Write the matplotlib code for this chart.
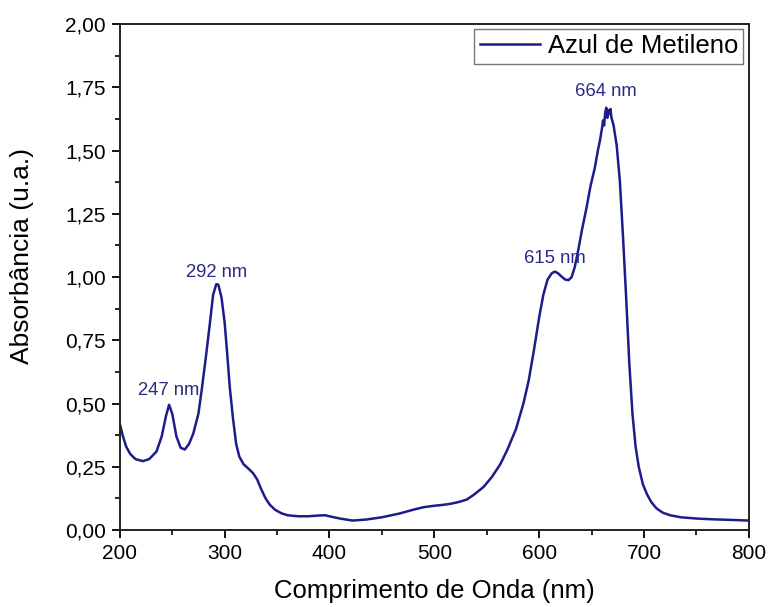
import numpy as np
import matplotlib
matplotlib.use("Agg")
import matplotlib.pyplot as plt
from matplotlib.ticker import MultipleLocator, FuncFormatter

plt.rcParams['font.family'] = ['Liberation Sans', 'DejaVu Sans']

wavelength = [200, 203, 206, 210, 215, 222, 228, 235, 240, 244, 247, 250, 254, 258, 262,
              266, 270, 275, 278, 282, 286, 289, 292, 294, 297, 300, 302, 305, 308, 311,
              314, 318, 322, 327, 331, 335, 339, 343, 348, 354, 360, 370, 380, 390, 396,
              402, 410, 422, 435, 450, 467, 480, 490, 499, 508, 515, 523, 531, 538, 547,
              555, 563, 570, 578, 585, 590, 595, 600, 604, 608, 612, 615, 618, 622, 625,
              628, 631, 634, 637, 641, 645, 649, 653, 656, 658, 660, 661, 662, 663, 664,
              665, 666, 667, 668, 669, 671, 674, 677, 680, 683, 686, 689, 692, 695, 699,
              703, 707, 712, 718, 725, 735, 750, 765, 780, 800]
absorbance = [0.42, 0.37, 0.33, 0.30, 0.28, 0.272, 0.28, 0.31, 0.37, 0.45, 0.495, 0.46, 0.37,
              0.325, 0.318, 0.34, 0.38, 0.46, 0.55, 0.68, 0.82, 0.93, 0.972, 0.97, 0.92, 0.82,
              0.72, 0.56, 0.44, 0.34, 0.29, 0.26, 0.245, 0.225, 0.20, 0.16, 0.125, 0.10, 0.08,
              0.066, 0.058, 0.054, 0.054, 0.057, 0.058, 0.052, 0.045, 0.037, 0.041, 0.05,
              0.065, 0.08, 0.09, 0.095, 0.099, 0.103, 0.11, 0.12, 0.14, 0.17, 0.21, 0.26,
              0.32, 0.40, 0.50, 0.59, 0.71, 0.84, 0.93, 0.99, 1.015, 1.022, 1.015, 1.0, 0.99,
              0.988, 1.0, 1.04, 1.10, 1.19, 1.27, 1.36, 1.43, 1.50, 1.54, 1.59, 1.62, 1.60,
              1.65, 1.67, 1.63, 1.66, 1.645, 1.665, 1.63, 1.60, 1.52, 1.38, 1.16, 0.92, 0.66,
              0.46, 0.33, 0.25, 0.18, 0.14, 0.11, 0.085, 0.068, 0.058, 0.05, 0.045, 0.042,
              0.04, 0.037]

peak_labels = ["247 nm", "292 nm", "615 nm", "664 nm"]
peak_label_x = [247, 292, 615, 664]
peak_label_y = [0.55, 1.02, 1.075, 1.735]

line_color = '#1c1c8a'
text_color = '#2a2a86'

fig = plt.figure(figsize=(7.68, 6.07), dpi=100)
ax = fig.add_axes([0.156, 0.127, 0.819, 0.833])

ax.plot(wavelength, absorbance, color=line_color, lw=1.8, label='Azul de Metileno')

for lab, x, y in zip(peak_labels, peak_label_x, peak_label_y):
    ax.text(x, y, lab, color=text_color, fontsize=13.3, ha='center', va='center')

ax.set_xlim(200, 800)
ax.set_ylim(0, 2.0)
ax.xaxis.set_major_locator(MultipleLocator(100))
ax.xaxis.set_minor_locator(MultipleLocator(50))
ax.yaxis.set_major_locator(MultipleLocator(0.25))
ax.yaxis.set_minor_locator(MultipleLocator(0.125))
ax.yaxis.set_major_formatter(FuncFormatter(lambda v, p: f"{v:.2f}".replace('.', ',')))
ax.tick_params(which='major', direction='out', length=6, width=1.3, labelsize=15,
               top=False, right=False, pad=4)
ax.tick_params(which='minor', direction='out', length=3.5, width=1.2,
               top=False, right=False)
for s in ax.spines.values():
    s.set_linewidth(1.4)
    s.set_color('#222222')

ax.set_xlabel('Comprimento de Onda (nm)', fontsize=18.5, labelpad=12)
ax.set_ylabel('Absorbância (u.a.)', fontsize=19)
ax.yaxis.set_label_coords(-0.137, 0.542)

leg = ax.legend(loc='upper right', bbox_to_anchor=(0.991, 0.99), fontsize=18.5,
                frameon=True, fancybox=False, edgecolor='#555555', handlelength=2.35,
                borderpad=0.2, handletextpad=0.3, borderaxespad=0)
leg.get_frame().set_linewidth(1.0)

fig.savefig('out.png', dpi=100)
